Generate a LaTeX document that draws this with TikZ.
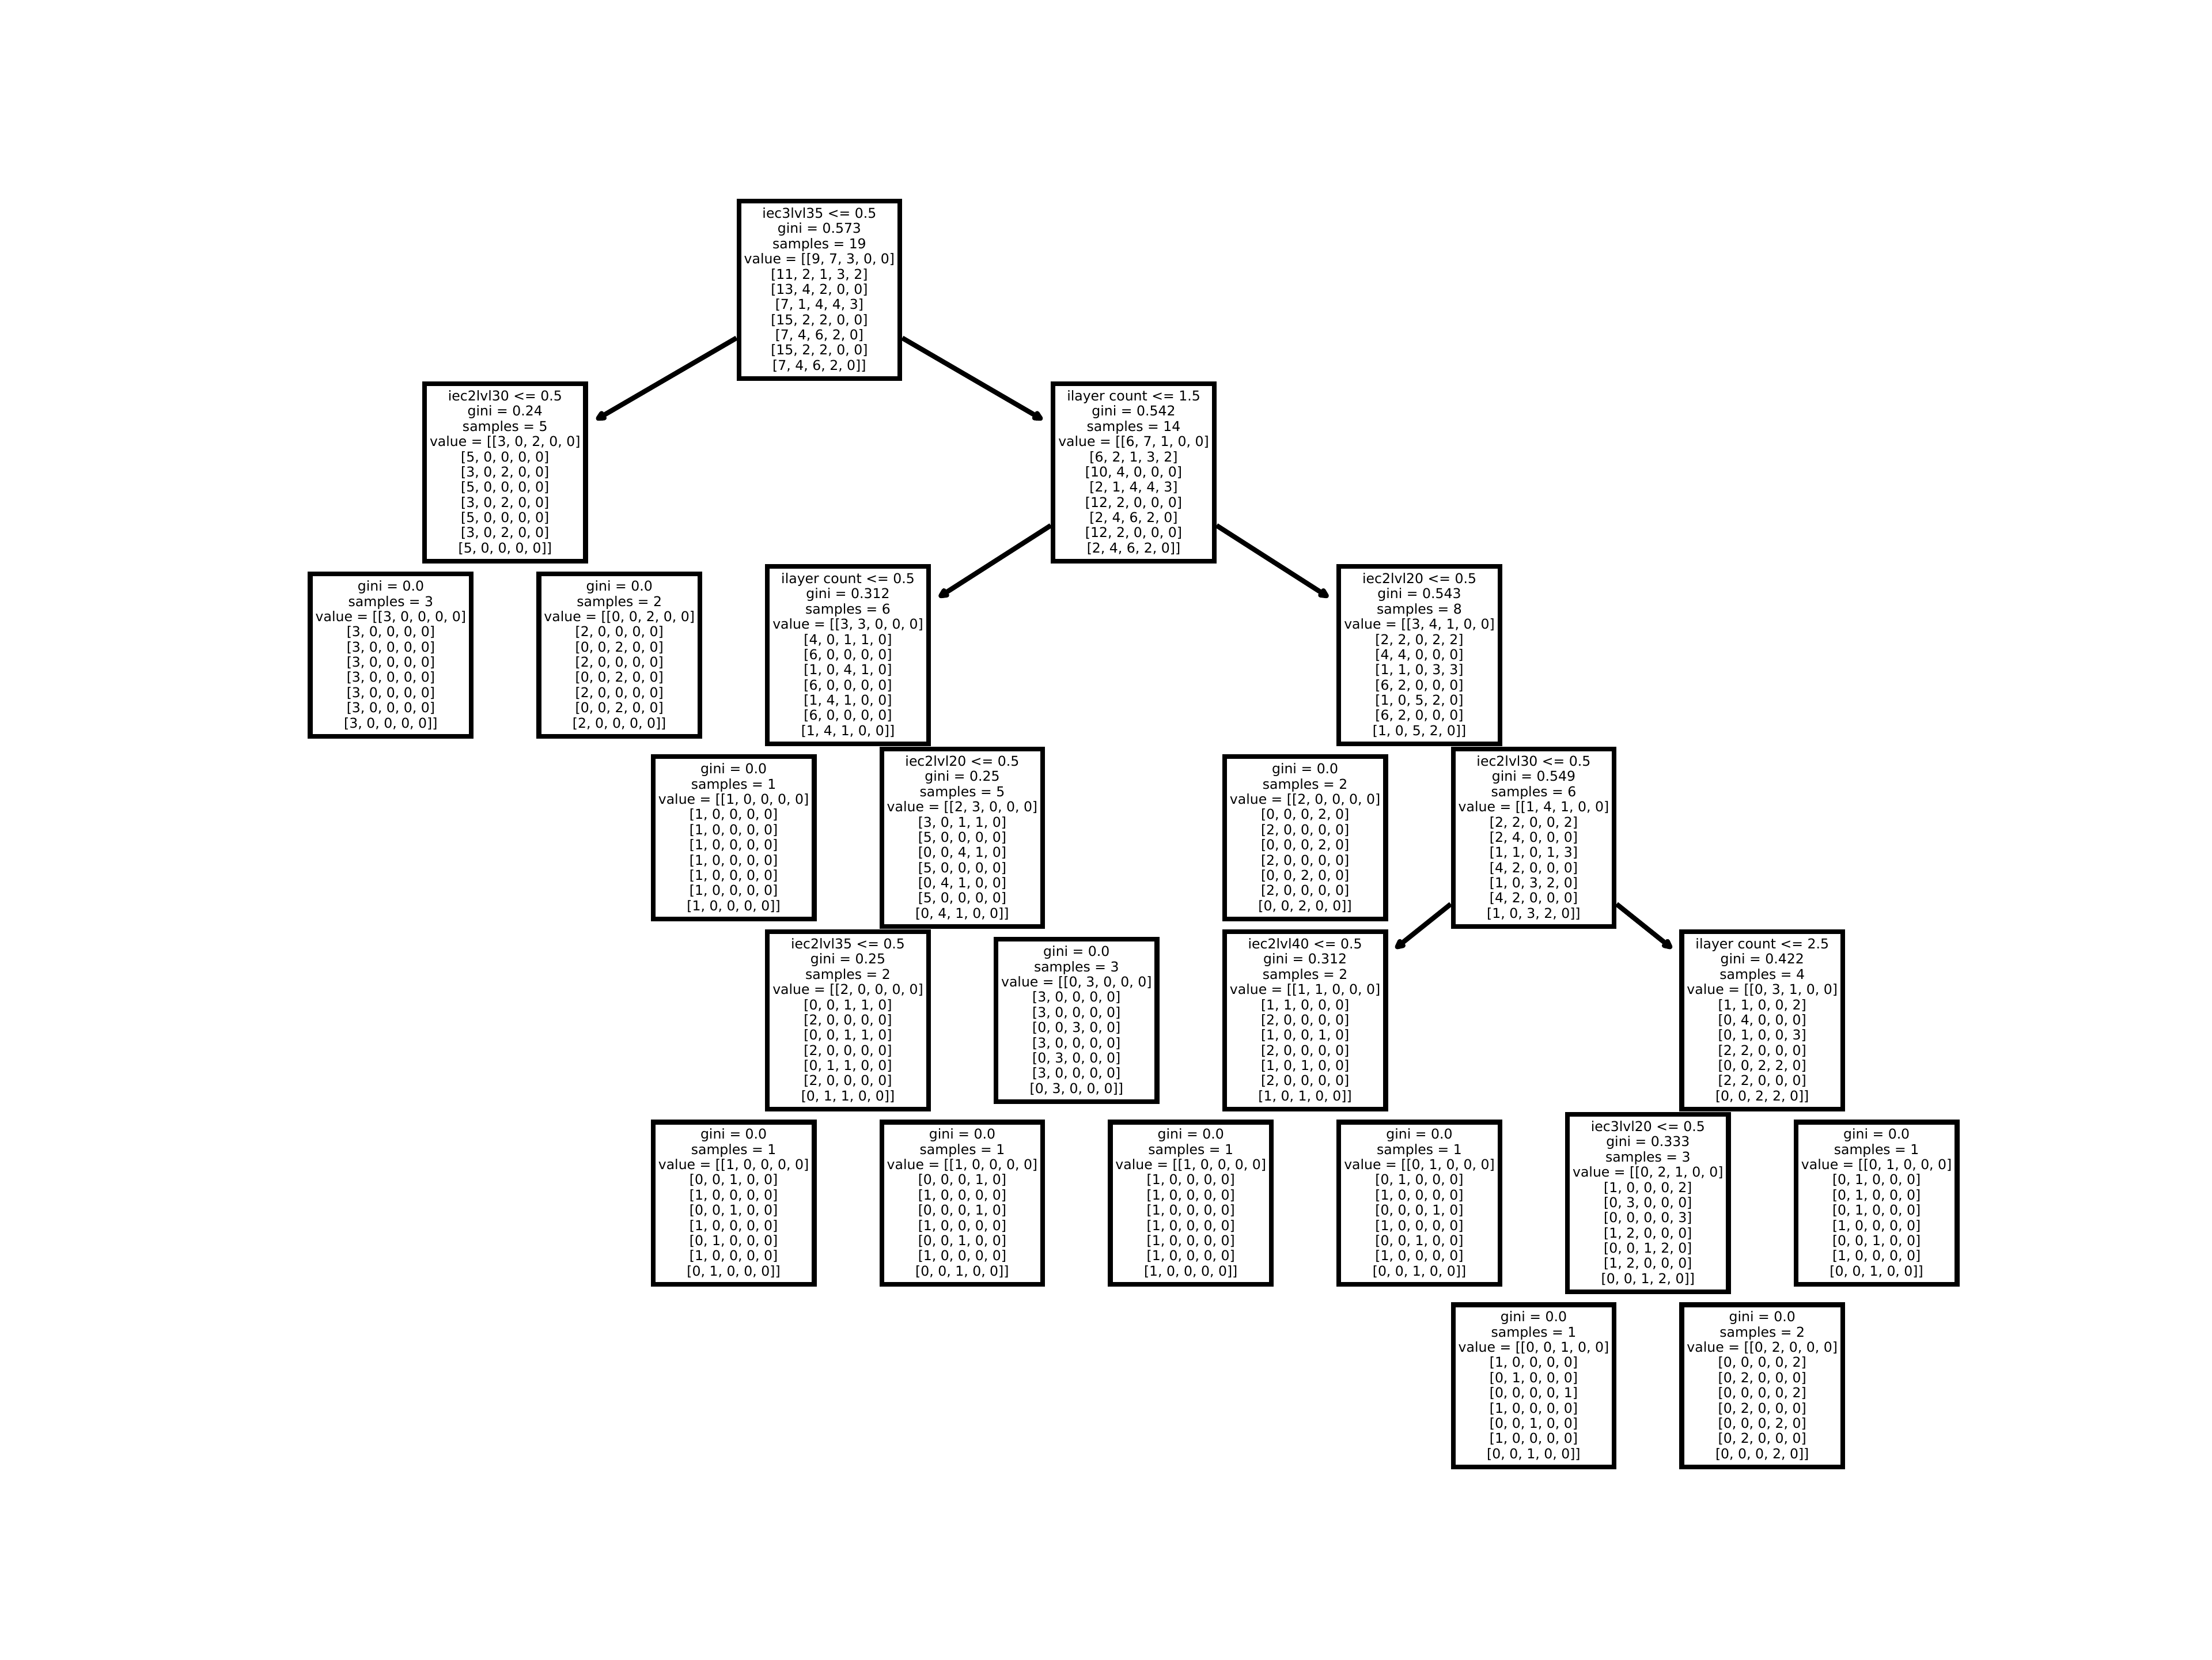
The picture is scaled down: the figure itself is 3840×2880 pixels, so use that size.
\documentclass[tikz,border=0pt]{standalone}
\usepackage{fontspec}
\setmainfont{DejaVu Sans}
\usetikzlibrary{arrows.meta}
\begin{document}
\begin{tikzpicture}[x=0.01cm,y=-0.01cm,
  tn/.style={draw=black, line width=2.36pt, fill=white, align=center,
    inner xsep=0.09cm, inner ysep=0.115cm,
    font=\fontsize{6.7pt}{7.5pt}\selectfont},
  edge/.style={line width=2.4pt, shorten >=0.166cm,
    -{Straight Barb[length=2.6pt,width=2.6pt,round]}}]
\useasboundingbox (0,0) rectangle (3840,2880);

% level 1
\node[tn] (root) at (1422.4,503) {iec3lvl35 <= 0.5\\gini = 0.573\\samples = 19\\value = [[9, 7, 3, 0, 0]\\{}[11, 2, 1, 3, 2]\\{}[13, 4, 2, 0, 0]\\{}[7, 1, 4, 4, 3]\\{}[15, 2, 2, 0, 0]\\{}[7, 4, 6, 2, 0]\\{}[15, 2, 2, 0, 0]\\{}[7, 4, 6, 2, 0]]};

% level 2
\node[tn] (n1) at (876.8,820) {iec2lvl30 <= 0.5\\gini = 0.24\\samples = 5\\value = [[3, 0, 2, 0, 0]\\{}[5, 0, 0, 0, 0]\\{}[3, 0, 2, 0, 0]\\{}[5, 0, 0, 0, 0]\\{}[3, 0, 2, 0, 0]\\{}[5, 0, 0, 0, 0]\\{}[3, 0, 2, 0, 0]\\{}[5, 0, 0, 0, 0]]};
\node[tn] (n2) at (1968.0,820) {ilayer count <= 1.5\\gini = 0.542\\samples = 14\\value = [[6, 7, 1, 0, 0]\\{}[6, 2, 1, 3, 2]\\{}[10, 4, 0, 0, 0]\\{}[2, 1, 4, 4, 3]\\{}[12, 2, 0, 0, 0]\\{}[2, 4, 6, 2, 0]\\{}[12, 2, 0, 0, 0]\\{}[2, 4, 6, 2, 0]]};

% level 3
\node[tn] (l3a) at (678.4,1137) {gini = 0.0\\samples = 3\\value = [[3, 0, 0, 0, 0]\\{}[3, 0, 0, 0, 0]\\{}[3, 0, 0, 0, 0]\\{}[3, 0, 0, 0, 0]\\{}[3, 0, 0, 0, 0]\\{}[3, 0, 0, 0, 0]\\{}[3, 0, 0, 0, 0]\\{}[3, 0, 0, 0, 0]]};
\node[tn] (l3b) at (1075.2,1137) {gini = 0.0\\samples = 2\\value = [[0, 0, 2, 0, 0]\\{}[2, 0, 0, 0, 0]\\{}[0, 0, 2, 0, 0]\\{}[2, 0, 0, 0, 0]\\{}[0, 0, 2, 0, 0]\\{}[2, 0, 0, 0, 0]\\{}[0, 0, 2, 0, 0]\\{}[2, 0, 0, 0, 0]]};
\node[tn] (n3) at (1472.0,1137) {ilayer count <= 0.5\\gini = 0.312\\samples = 6\\value = [[3, 3, 0, 0, 0]\\{}[4, 0, 1, 1, 0]\\{}[6, 0, 0, 0, 0]\\{}[1, 0, 4, 1, 0]\\{}[6, 0, 0, 0, 0]\\{}[1, 4, 1, 0, 0]\\{}[6, 0, 0, 0, 0]\\{}[1, 4, 1, 0, 0]]};
\node[tn] (n4) at (2464.0,1137) {iec2lvl20 <= 0.5\\gini = 0.543\\samples = 8\\value = [[3, 4, 1, 0, 0]\\{}[2, 2, 0, 2, 2]\\{}[4, 4, 0, 0, 0]\\{}[1, 1, 0, 3, 3]\\{}[6, 2, 0, 0, 0]\\{}[1, 0, 5, 2, 0]\\{}[6, 2, 0, 0, 0]\\{}[1, 0, 5, 2, 0]]};

% level 4
\node[tn] (l4a) at (1273.6,1454) {gini = 0.0\\samples = 1\\value = [[1, 0, 0, 0, 0]\\{}[1, 0, 0, 0, 0]\\{}[1, 0, 0, 0, 0]\\{}[1, 0, 0, 0, 0]\\{}[1, 0, 0, 0, 0]\\{}[1, 0, 0, 0, 0]\\{}[1, 0, 0, 0, 0]\\{}[1, 0, 0, 0, 0]]};
\node[tn] (n5) at (1670.4,1454) {iec2lvl20 <= 0.5\\gini = 0.25\\samples = 5\\value = [[2, 3, 0, 0, 0]\\{}[3, 0, 1, 1, 0]\\{}[5, 0, 0, 0, 0]\\{}[0, 0, 4, 1, 0]\\{}[5, 0, 0, 0, 0]\\{}[0, 4, 1, 0, 0]\\{}[5, 0, 0, 0, 0]\\{}[0, 4, 1, 0, 0]]};
\node[tn] (l4b) at (2265.6,1454) {gini = 0.0\\samples = 2\\value = [[2, 0, 0, 0, 0]\\{}[0, 0, 0, 2, 0]\\{}[2, 0, 0, 0, 0]\\{}[0, 0, 0, 2, 0]\\{}[2, 0, 0, 0, 0]\\{}[0, 0, 2, 0, 0]\\{}[2, 0, 0, 0, 0]\\{}[0, 0, 2, 0, 0]]};
\node[tn] (n6) at (2662.4,1454) {iec2lvl30 <= 0.5\\gini = 0.549\\samples = 6\\value = [[1, 4, 1, 0, 0]\\{}[2, 2, 0, 0, 2]\\{}[2, 4, 0, 0, 0]\\{}[1, 1, 0, 1, 3]\\{}[4, 2, 0, 0, 0]\\{}[1, 0, 3, 2, 0]\\{}[4, 2, 0, 0, 0]\\{}[1, 0, 3, 2, 0]]};

% level 5
\node[tn] (n7) at (1472.0,1771) {iec2lvl35 <= 0.5\\gini = 0.25\\samples = 2\\value = [[2, 0, 0, 0, 0]\\{}[0, 0, 1, 1, 0]\\{}[2, 0, 0, 0, 0]\\{}[0, 0, 1, 1, 0]\\{}[2, 0, 0, 0, 0]\\{}[0, 1, 1, 0, 0]\\{}[2, 0, 0, 0, 0]\\{}[0, 1, 1, 0, 0]]};
\node[tn] (l5a) at (1868.8,1771) {gini = 0.0\\samples = 3\\value = [[0, 3, 0, 0, 0]\\{}[3, 0, 0, 0, 0]\\{}[3, 0, 0, 0, 0]\\{}[0, 0, 3, 0, 0]\\{}[3, 0, 0, 0, 0]\\{}[0, 3, 0, 0, 0]\\{}[3, 0, 0, 0, 0]\\{}[0, 3, 0, 0, 0]]};
\node[tn] (n8) at (2265.6,1771) {iec2lvl40 <= 0.5\\gini = 0.312\\samples = 2\\value = [[1, 1, 0, 0, 0]\\{}[1, 1, 0, 0, 0]\\{}[2, 0, 0, 0, 0]\\{}[1, 0, 0, 1, 0]\\{}[2, 0, 0, 0, 0]\\{}[1, 0, 1, 0, 0]\\{}[2, 0, 0, 0, 0]\\{}[1, 0, 1, 0, 0]]};
\node[tn] (n9) at (3059.2,1771) {ilayer count <= 2.5\\gini = 0.422\\samples = 4\\value = [[0, 3, 1, 0, 0]\\{}[1, 1, 0, 0, 2]\\{}[0, 4, 0, 0, 0]\\{}[0, 1, 0, 0, 3]\\{}[2, 2, 0, 0, 0]\\{}[0, 0, 2, 2, 0]\\{}[2, 2, 0, 0, 0]\\{}[0, 0, 2, 2, 0]]};

% level 6
\node[tn] (l6a) at (1273.6,2088) {gini = 0.0\\samples = 1\\value = [[1, 0, 0, 0, 0]\\{}[0, 0, 1, 0, 0]\\{}[1, 0, 0, 0, 0]\\{}[0, 0, 1, 0, 0]\\{}[1, 0, 0, 0, 0]\\{}[0, 1, 0, 0, 0]\\{}[1, 0, 0, 0, 0]\\{}[0, 1, 0, 0, 0]]};
\node[tn] (l6b) at (1670.4,2088) {gini = 0.0\\samples = 1\\value = [[1, 0, 0, 0, 0]\\{}[0, 0, 0, 1, 0]\\{}[1, 0, 0, 0, 0]\\{}[0, 0, 0, 1, 0]\\{}[1, 0, 0, 0, 0]\\{}[0, 0, 1, 0, 0]\\{}[1, 0, 0, 0, 0]\\{}[0, 0, 1, 0, 0]]};
\node[tn] (l6c) at (2067.2,2088) {gini = 0.0\\samples = 1\\value = [[1, 0, 0, 0, 0]\\{}[1, 0, 0, 0, 0]\\{}[1, 0, 0, 0, 0]\\{}[1, 0, 0, 0, 0]\\{}[1, 0, 0, 0, 0]\\{}[1, 0, 0, 0, 0]\\{}[1, 0, 0, 0, 0]\\{}[1, 0, 0, 0, 0]]};
\node[tn] (l6d) at (2464.0,2088) {gini = 0.0\\samples = 1\\value = [[0, 1, 0, 0, 0]\\{}[0, 1, 0, 0, 0]\\{}[1, 0, 0, 0, 0]\\{}[0, 0, 0, 1, 0]\\{}[1, 0, 0, 0, 0]\\{}[0, 0, 1, 0, 0]\\{}[1, 0, 0, 0, 0]\\{}[0, 0, 1, 0, 0]]};
\node[tn] (n10) at (2860.8,2088) {iec3lvl20 <= 0.5\\gini = 0.333\\samples = 3\\value = [[0, 2, 1, 0, 0]\\{}[1, 0, 0, 0, 2]\\{}[0, 3, 0, 0, 0]\\{}[0, 0, 0, 0, 3]\\{}[1, 2, 0, 0, 0]\\{}[0, 0, 1, 2, 0]\\{}[1, 2, 0, 0, 0]\\{}[0, 0, 1, 2, 0]]};
\node[tn] (l6e) at (3257.6,2088) {gini = 0.0\\samples = 1\\value = [[0, 1, 0, 0, 0]\\{}[0, 1, 0, 0, 0]\\{}[0, 1, 0, 0, 0]\\{}[0, 1, 0, 0, 0]\\{}[1, 0, 0, 0, 0]\\{}[0, 0, 1, 0, 0]\\{}[1, 0, 0, 0, 0]\\{}[0, 0, 1, 0, 0]]};

% level 7
\node[tn] (l7a) at (2662.4,2405) {gini = 0.0\\samples = 1\\value = [[0, 0, 1, 0, 0]\\{}[1, 0, 0, 0, 0]\\{}[0, 1, 0, 0, 0]\\{}[0, 0, 0, 0, 1]\\{}[1, 0, 0, 0, 0]\\{}[0, 0, 1, 0, 0]\\{}[1, 0, 0, 0, 0]\\{}[0, 0, 1, 0, 0]]};
\node[tn] (l7b) at (3059.2,2405) {gini = 0.0\\samples = 2\\value = [[0, 2, 0, 0, 0]\\{}[0, 0, 0, 0, 2]\\{}[0, 2, 0, 0, 0]\\{}[0, 0, 0, 0, 2]\\{}[0, 2, 0, 0, 0]\\{}[0, 0, 0, 2, 0]\\{}[0, 2, 0, 0, 0]\\{}[0, 0, 0, 2, 0]]};

% visible parent-to-child arrows
\draw[edge] (root) -- (n1);
\draw[edge] (root) -- (n2);
\draw[edge] (n2) -- (n3);
\draw[edge] (n2) -- (n4);
\draw[edge] (n6) -- (n8);
\draw[edge] (n6) -- (n9);
\end{tikzpicture}
\end{document}
